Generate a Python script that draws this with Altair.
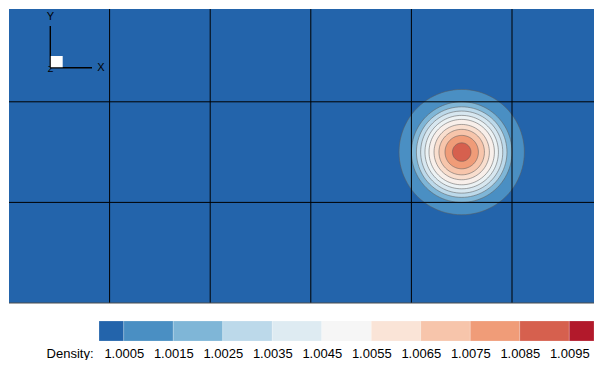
import math
import altair as alt
import pandas as pd

# ---------------- data ----------------
# block grid (6 x 3 blocks, one unit per block)
grid_x = [1, 2, 3, 4, 5]
grid_y = [1, 2]

# density bump: centre and the outer radius (block units) of each filled contour band
bump_x = 4.5
bump_y = 1.5
band_radius = [0.623, 0.500, 0.450, 0.408, 0.365, 0.325, 0.275, 0.226, 0.166, 0.092]
band_density = [1.0010, 1.0020, 1.0030, 1.0038, 1.0046, 1.0054, 1.0062, 1.0070, 1.0080, 1.0090]
background_density = 1.00025

# colour bar
cbar_edges = [1.0000, 1.0005, 1.0015, 1.0025, 1.0035, 1.0045, 1.0055,
              1.0065, 1.0075, 1.0085, 1.0095, 1.0100]
cbar_colors = ["#2364ab", "#4a8fc3", "#7fb6d7", "#bcd9ea", "#deebf2", "#f6f6f6",
               "#fae4d7", "#f7c5ab", "#f09c78", "#d6604e", "#b2192b"]
cbar_ticks = [1.0005, 1.0015, 1.0025, 1.0035, 1.0045, 1.0055,
              1.0065, 1.0075, 1.0085, 1.0095]

# ---------------- layout ----------------
PX = 100.6          # pixels per block
W, H = 585, 294
X_MAX = W / PX
Y_MAX = H / PX
FONT = "Liberation Sans"
N_SEG = 48

cbar_mid = [(a + b) / 2 for a, b in zip(cbar_edges[:-1], cbar_edges[1:])]
cs = alt.Scale(domain=cbar_mid, range=cbar_colors, interpolate="rgb", clamp=True)
xs = alt.Scale(domain=[0, X_MAX], nice=False, zero=False)
ys = alt.Scale(domain=[0, Y_MAX], nice=False, zero=False)

bg_df = pd.DataFrame({"x0": [0], "x1": [X_MAX], "y0": [0], "y1": [Y_MAX],
                      "d": [background_density]})
bg = alt.Chart(bg_df).mark_rect().encode(
    x=alt.X("x0:Q", scale=xs, axis=None), x2="x1",
    y=alt.Y("y0:Q", scale=ys, axis=None), y2="y1",
    color=alt.Color("d:Q", scale=cs, legend=None),
)

# one filled disc per contour band, largest first
band_layers = []
for r, d in zip(band_radius, band_density):
    rows = []
    for k in range(N_SEG + 1):
        t = math.pi * k / N_SEG
        rows.append({
            "x": bump_x + r * math.cos(t),
            "ylo": bump_y - r * math.sin(t),
            "yhi": bump_y + r * math.sin(t),
            "d": d,
        })
    band_layers.append(
        alt.Chart(pd.DataFrame(rows)).mark_area(
            stroke="#5a5a5a", strokeWidth=0.7, strokeOpacity=0.75, interpolate="linear"
        ).encode(
            x=alt.X("x:Q", scale=xs, axis=None),
            y=alt.Y("ylo:Q", scale=ys, axis=None),
            y2="yhi",
            color=alt.Color("d:Q", scale=cs, legend=None),
        )
    )

vlines = alt.Chart(pd.DataFrame({"gx": grid_x})).mark_rule(color="#000000", strokeWidth=1).encode(
    x=alt.X("gx:Q", scale=xs, axis=None))
hlines = alt.Chart(pd.DataFrame({"gy": grid_y})).mark_rule(color="#000000", strokeWidth=1).encode(
    y=alt.Y("gy:Q", scale=ys, axis=None))
bottom = alt.Chart(pd.DataFrame({"gy": [0]})).mark_rule(color="#4d4d4d", strokeWidth=1.2).encode(
    y=alt.Y("gy:Q", scale=ys, axis=None))

# axis triad (decoration, pixel positions)
tri_v = alt.Chart(bg_df).mark_rule(color="#000000", strokeWidth=1.4).encode(
    x=alt.value(41.3), y=alt.value(17), y2=alt.value(58.7))
tri_h = alt.Chart(bg_df).mark_rule(color="#000000", strokeWidth=1.4).encode(
    x=alt.value(41.3), x2=alt.value(83), y=alt.value(58.7))
tri_z = alt.Chart(bg_df).mark_text(text="Z", font=FONT, fontSize=9, color="#000000").encode(
    x=alt.value(41.5), y=alt.value(59.5))
tri_sq = alt.Chart(bg_df).mark_rect(color="#ffffff").encode(
    x=alt.value(41.8), x2=alt.value(53.7), y=alt.value(47), y2=alt.value(58.3))
tri_y = alt.Chart(bg_df).mark_text(text="Y", font=FONT, fontSize=11, color="#000000").encode(
    x=alt.value(41.3), y=alt.value(8))
tri_x = alt.Chart(bg_df).mark_text(text="X", font=FONT, fontSize=11, color="#000000").encode(
    x=alt.value(92), y=alt.value(59))

main = alt.layer(bg, *band_layers, vlines, hlines, bottom,
                 tri_v, tri_h, tri_z, tri_sq, tri_y, tri_x).properties(width=W, height=H)

cb_df = pd.DataFrame({"lo": cbar_edges[:-1], "hi": cbar_edges[1:], "mid": cbar_mid})
cbar = alt.Chart(cb_df).mark_rect(stroke="#ffffff", strokeWidth=0.5, strokeOpacity=0.4).encode(
    x=alt.X("lo:Q",
            scale=alt.Scale(domain=[cbar_edges[0], cbar_edges[-1]], range=[90, 585], nice=False, zero=False),
            axis=alt.Axis(values=cbar_ticks, format=".4f", domain=False, ticks=False, grid=False,
                          labelFont=FONT, labelFontSize=13, labelColor="#000000", labelPadding=6,
                          labelOverlap=False, labelFlush=False,
                          title="Density:", titleFont=FONT, titleFontSize=13, titleFontWeight="normal",
                          titleColor="#000000", titleAlign="right", titleBaseline="top",
                          titleX=84, titleY=6)),
    x2="hi",
    y=alt.value(0), y2=alt.value(20),
    color=alt.Color("mid:Q", scale=cs, legend=None),
).properties(width=W, height=20)

chart = alt.vconcat(main, cbar, spacing=16).properties(padding=0).configure_view(strokeWidth=0)

chart.save("out.html", embed_options={"renderer": "svg", "actions": False})
